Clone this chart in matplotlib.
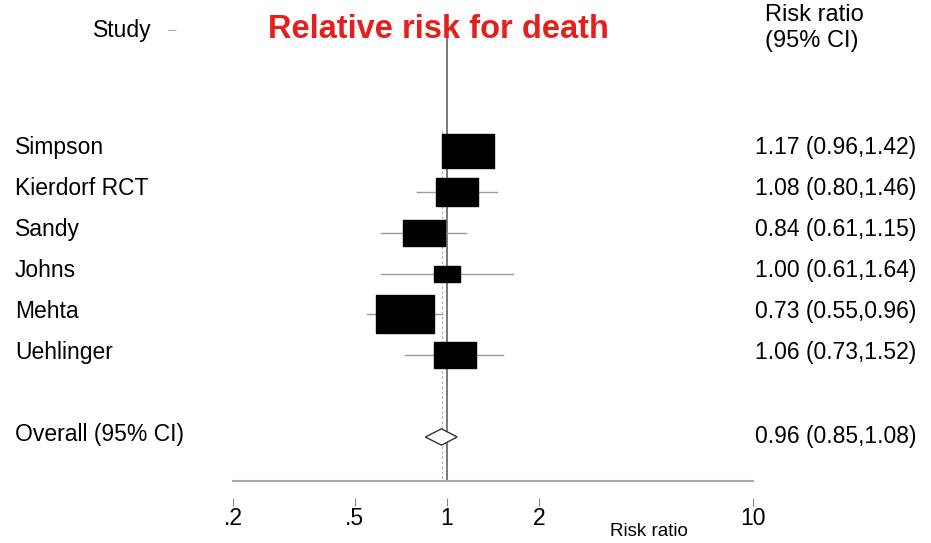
import matplotlib
matplotlib.use("Agg")
import matplotlib.pyplot as plt
import numpy as np
from matplotlib.transforms import blended_transform_factory
from matplotlib.ticker import FixedLocator, FixedFormatter, NullLocator

plt.rcParams['font.family'] = ['Liberation Sans', 'DejaVu Sans']

studies = ['Simpson', 'Kierdorf RCT', 'Sandy', 'Johns', 'Mehta', 'Uehlinger']
rr = [1.17, 1.08, 0.84, 1.00, 0.73, 1.06]
ci_lo = [0.96, 0.80, 0.61, 0.61, 0.55, 0.73]
ci_hi = [1.42, 1.46, 1.15, 1.64, 0.96, 1.52]
weights = [22.3, 15.0, 14.7, 5.7, 28.1, 14.1]   # % weight, sets box size

overall_label = 'Overall (95% CI)'
overall_rr = 0.96
overall_lo = 0.85
overall_hi = 1.08

tick_vals = [0.2, 0.5, 1, 2, 10]
tick_text = ['.2', '.5', '1', '2', '10']

W, H = 931, 543
fig = plt.figure(figsize=(W / 100, H / 100), dpi=100)
ax = fig.add_axes([233 / W, (H - 481) / H, 520 / W, 481 / H])

rows = np.arange(len(studies))
overall_row = len(studies) + 1
y_bottom = 8.077
y_top = -3.695

ax.set_xscale('log')
ax.set_xlim(0.2, 10)
ax.set_ylim(y_bottom, y_top)

# reference line at 1 and dotted line at pooled estimate
ax.plot([1, 1], [y_bottom, -3.33], color='#555555', lw=1.1, zorder=1)
ax.plot([overall_rr, overall_rr], [-0.5, y_bottom], color='#b0b0b0', lw=0.9,
        ls=(0, (2, 2)), zorder=1)

# study boxes and CIs
box = [(-0.78, -0.5), (0.78, -0.5), (0.78, 0.5), (-0.78, 0.5), (-0.78, -0.5)]
max_w = max(weights)
for i in rows:
    ax.plot([ci_lo[i], ci_hi[i]], [i, i], color='#9a9a9a', lw=1.0, zorder=2)
    size = 58 * 0.72 * np.sqrt(weights[i] / max_w)
    ax.plot(rr[i], i, marker=box, markersize=size, color='black', zorder=3)

# pooled diamond
dh = 0.2
ax.fill([overall_lo, overall_rr, overall_hi, overall_rr],
        [overall_row, overall_row - dh, overall_row, overall_row + dh],
        facecolor='white', edgecolor='#333333', lw=1.0, zorder=3)

# axis
for s in ['left', 'right', 'top']:
    ax.spines[s].set_visible(False)
ax.spines['bottom'].set_position(('outward', 12))
ax.spines['bottom'].set_visible(False)
ax.plot([0.2, 10], [y_bottom, y_bottom], color='#aaaaaa', lw=1.5, clip_on=False)
ax.set_yticks([])
ax.xaxis.set_major_locator(FixedLocator(tick_vals))
ax.xaxis.set_major_formatter(FixedFormatter(tick_text))
ax.xaxis.set_minor_locator(NullLocator())
ax.tick_params(axis='x', direction='out', length=6, width=0.8, color='#888888',
               labelsize=16.5, pad=1)
fig.text(649 / W, 1 - 532 / H, 'Risk ratio', fontsize=13.5, ha='center', va='center')

# text columns
fs = 16.5
tr = blended_transform_factory(fig.transFigure, ax.transData)
for i in rows:
    ax.text(15 / W, i - 0.08, studies[i], transform=tr, fontsize=fs, ha='left', va='center')
    ax.text(755 / W, i - 0.08, f'{rr[i]:.2f} ({ci_lo[i]:.2f},{ci_hi[i]:.2f})',
            transform=tr, fontsize=fs, ha='left', va='center')
ax.text(15 / W, overall_row - 0.05, overall_label, transform=tr, fontsize=fs,
        ha='left', va='center')
ax.text(755 / W, overall_row - 0.02,
        f'{overall_rr:.2f} ({overall_lo:.2f},{overall_hi:.2f})',
        transform=tr, fontsize=fs, ha='left', va='center')

fig.text(93 / W, 1 - 30 / H, 'Study', fontsize=fs, ha='left', va='center')
fig.text(168 / W, 1 - 30 / H, '\u2013', fontsize=11, color='#aaaaaa', ha='left', va='center')
fig.text(268 / W, 1 - 30 / H, 'Relative risk for death', fontsize=23.5, fontweight='bold',
         color='#e3201b', ha='left', va='center')
fig.text(765 / W, 1 - 15 / H, 'Risk ratio', fontsize=17, ha='left', va='center')
fig.text(765 / W, 1 - 41 / H, '(95% CI)', fontsize=17, ha='left', va='center')

fig.savefig('out.png', dpi=100)
